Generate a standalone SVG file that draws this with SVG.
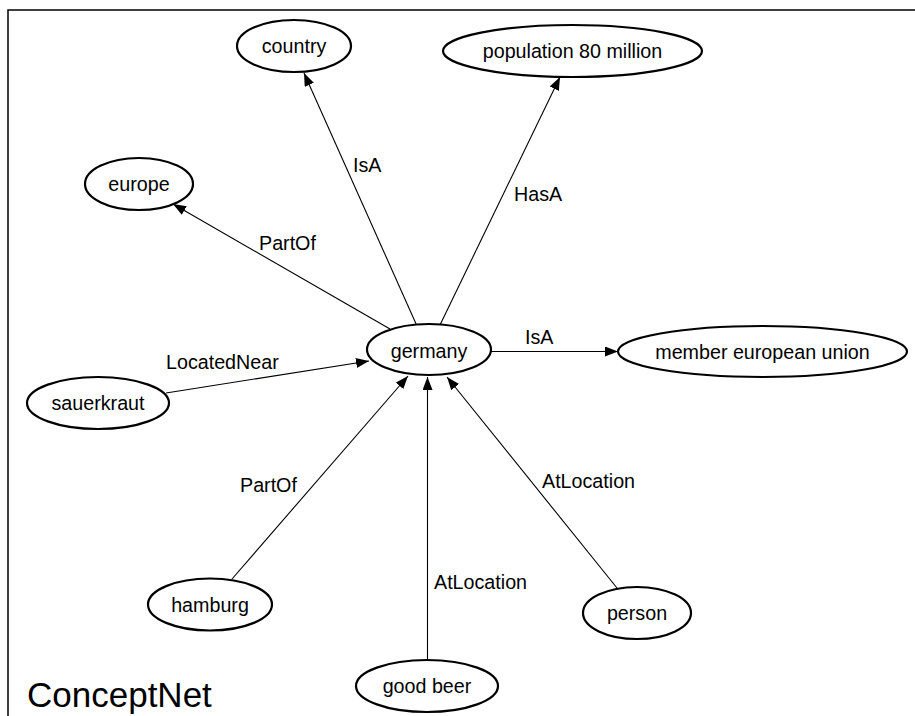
<svg xmlns="http://www.w3.org/2000/svg" width="915" height="716" viewBox="0 0 915 716">
  <style>
    .node ellipse { fill: #ffffff; stroke: #000000; stroke-width: 2.2; }
    .node text { font-family: "Liberation Sans", Arial, sans-serif; font-size: 19.7px; fill: #000000; text-anchor: middle; }
    .edges line { stroke: #000000; stroke-width: 1.1; marker-end: url(#arrow); }
    .edges text { font-family: "Liberation Sans", Arial, sans-serif; font-size: 19.7px; fill: #000000; }
    .frame { fill: none; stroke: #000000; stroke-width: 1.5; }
    .title { font-family: "Liberation Sans", Arial, sans-serif; font-size: 35px; fill: #000000; }
  </style>
  <defs>
    <marker id="arrow" markerUnits="userSpaceOnUse" markerWidth="14" markerHeight="11" refX="13" refY="5" orient="auto">
      <path d="M0,0 L13,5 L0,10 z" fill="#000000"/>
    </marker>
  </defs>

  <rect width="915" height="716" fill="#ffffff"/>
  <!-- panel frame: top and left edges -->
  <path class="frame" d="M8,716 L8,10 L915,10"/>

  <g id="edges" class="edges">
    <line x1="417" y1="326" x2="304" y2="73"/>
    <text x="353" y="172">IsA</text>
    <line x1="440" y1="325" x2="560" y2="77"/>
    <text x="514" y="201">HasA</text>
    <line x1="390" y1="329" x2="173" y2="204"/>
    <text x="259" y="250">PartOf</text>
    <line x1="491" y1="351.5" x2="618" y2="351.5"/>
    <text x="525" y="344">IsA</text>
    <line x1="166" y1="393" x2="369" y2="361"/>
    <text x="166" y="369">LocatedNear</text>
    <line x1="232" y1="579" x2="408" y2="376"/>
    <text x="240" y="492">PartOf</text>
    <line x1="427.5" y1="660" x2="427.5" y2="377"/>
    <text x="434" y="589">AtLocation</text>
    <line x1="617" y1="588" x2="447" y2="377"/>
    <text x="542" y="488">AtLocation</text>
  </g>

  <g id="germany" class="node">
    <ellipse cx="429" cy="349.5" rx="62" ry="25.5"/>
    <text x="429" y="358">germany</text>
  </g>
  <g id="country" class="node">
    <ellipse cx="294" cy="46" rx="57" ry="26"/>
    <text x="294" y="53">country</text>
  </g>
  <g id="population" class="node">
    <ellipse cx="572.5" cy="51" rx="129.5" ry="26"/>
    <text x="572.5" y="58">population 80 million</text>
  </g>
  <g id="europe" class="node">
    <ellipse cx="139" cy="184" rx="54" ry="26"/>
    <text x="139" y="191">europe</text>
  </g>
  <g id="member-european-union" class="node">
    <ellipse cx="762.5" cy="351.5" rx="144.5" ry="25.5"/>
    <text x="762.5" y="359">member european union</text>
  </g>
  <g id="sauerkraut" class="node">
    <ellipse cx="98" cy="403" rx="71" ry="26"/>
    <text x="98" y="410">sauerkraut</text>
  </g>
  <g id="hamburg" class="node">
    <ellipse cx="210" cy="604.5" rx="62" ry="26"/>
    <text x="210" y="611.5">hamburg</text>
  </g>
  <g id="good-beer" class="node">
    <ellipse cx="427" cy="686" rx="71" ry="26"/>
    <text x="427" y="693">good beer</text>
  </g>
  <g id="person" class="node">
    <ellipse cx="637" cy="613" rx="54" ry="26"/>
    <text x="637" y="620">person</text>
  </g>

  <text class="title" x="27" y="707">ConceptNet</text>
</svg>
